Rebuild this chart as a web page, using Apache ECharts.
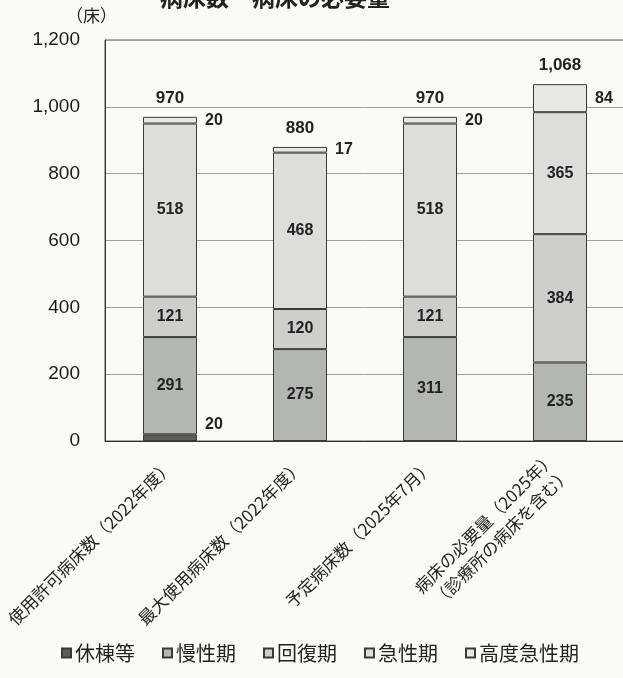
<!DOCTYPE html>
<html>
<head>
<meta charset="utf-8">
<script src="https://cdn.jsdelivr.net/npm/echarts@6/dist/echarts.min.js"></script>
<style>
  html, body { margin: 0; padding: 0; background: #fbfbf5; }
  #chart { width: 623px; height: 678px; }
</style>
</head>
<body>
<div id="chart"></div>
<script>
// 病床の区分別の内訳（床）
const categories = [
  '使用許可病床数（2022年度）',
  '最大使用病床数（2022年度）',
  '予定病床数（2025年7月）',
  '病床の必要量（2025年）\n（診療所の病床を含む）'
];
const kyutoTo    = [20, 0, 0, 0];        // 休棟等
const manseiki   = [291, 275, 311, 235]; // 慢性期
const kaifukuki  = [121, 120, 121, 384]; // 回復期
const kyuseiki   = [518, 468, 518, 365]; // 急性期
const kodoKyusei = [20, 17, 20, 84];     // 高度急性期
const totals     = [970, 880, 970, 1068];
const yTicks = [0, 200, 400, 600, 800, 1000, 1200];

const FONT = '"Liberation Sans", Arial, "Noto Sans CJK JP", sans-serif';
const JP = '"Noto Sans CJK JP", "Liberation Sans", sans-serif';

const fmt = v => v.toLocaleString('en-US');

function seg(name, data, color, labelOpt) {
  return {
    name: name,
    type: 'bar',
    stack: 'beds',
    barWidth: 54,
    data: data,
    itemStyle: { color: color, borderColor: '#3a3a3a', borderWidth: 1 },
    label: Object.assign({
      show: true,
      position: 'inside',
      fontFamily: FONT,
      fontSize: 16,
      fontWeight: 'bold',
      color: '#222',
      formatter: p => (p.value > 0 ? fmt(p.value) : '')
    }, labelOpt || {})
  };
}

const chart = echarts.init(document.getElementById('chart'), null, { renderer: 'canvas' });
chart.setOption({
  backgroundColor: '#fbfbf5',
  animation: false,
  title: {
    text: '病床数・病床の必要量',
    left: 155,
    top: -19,
    textStyle: { fontFamily: JP, fontSize: 23, fontWeight: 'bold', color: '#222' }
  },
  graphic: [{
    type: 'text',
    left: 66,
    top: 7,
    style: { text: '（床）', font: '17px ' + JP, fill: '#222' }
  }],
  grid: {
    left: 105, top: 40, width: 520, height: 401,
    containLabel: false,
    outerBoundsMode: 'none',
    show: true, borderColor: '#555', borderWidth: 1, backgroundColor: 'transparent'
  },
  legend: {
    bottom: 10,
    left: 56,
    itemWidth: 9,
    itemHeight: 9,
    itemGap: 27,
    icon: 'rect',
    textStyle: { fontFamily: JP, fontSize: 20, color: '#222', padding: [0, 0, 0, -1] },
    data: ['休棟等', '慢性期', '回復期', '急性期', '高度急性期']
  },
  xAxis: {
    type: 'category',
    data: categories,
    axisLine: { show: true, lineStyle: { color: '#333', width: 1 } },
    axisTick: { show: false },
    axisLabel: {
      rotate: 45,
      interval: 0,
      margin: 22,
      fontFamily: JP,
      fontSize: 17,
      lineHeight: 22,
      color: '#222',
      align: 'right'
    }
  },
  yAxis: {
    type: 'value',
    min: yTicks[0],
    max: yTicks[yTicks.length - 1],
    interval: 200,
    axisLine: { show: true, lineStyle: { color: '#333', width: 1 } },
    axisTick: { show: false },
    axisLabel: {
      margin: 25,
      fontFamily: FONT,
      fontSize: 19,
      color: '#1a1a1a',
      formatter: v => fmt(v)
    },
    splitLine: { lineStyle: { color: '#a0a0a0', width: 1 } }
  },
  series: [
    seg('休棟等', kyutoTo, '#5a5e5a', {
      position: 'right', distance: 8, offset: [0, -13]
    }),
    seg('慢性期', manseiki, '#b3b7b1'),
    seg('回復期', kaifukuki, '#cdd0ca'),
    seg('急性期', kyuseiki, '#dcdfd9'),
    seg('高度急性期', kodoKyusei, '#e6e8e2', { position: 'right', distance: 8 }),
    {
      name: '合計',
      type: 'scatter',
      data: totals,
      symbolSize: 0,
      silent: true,
      z: 5,
      itemStyle: { color: 'transparent', opacity: 1 },
      label: {
        show: true,
        position: 'top',
        distance: 10,
        fontFamily: FONT,
        fontSize: 17,
        fontWeight: 'bold',
        color: '#222',
        opacity: 1,
        formatter: p => fmt(p.value)
      }
    }
  ]
});
</script>
</body>
</html>
